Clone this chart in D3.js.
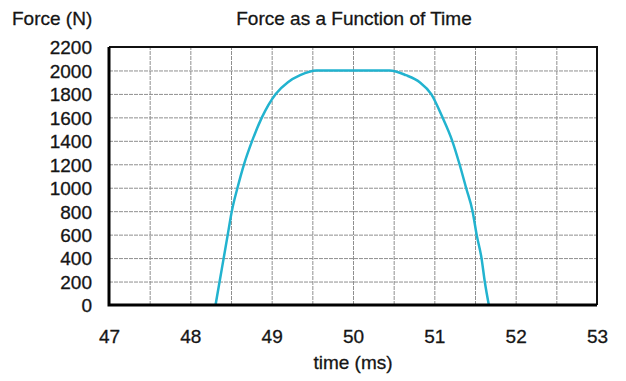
<!DOCTYPE html>
<html>
<head>
<meta charset="utf-8">
<script src="https://cdn.jsdelivr.net/npm/d3@7"></script>
<style>
  body { margin: 0; background: #fff; }
  svg { display: block; font-family: "Liberation Sans", Arial, sans-serif; }
  .grid line { stroke: #8f8f8f; stroke-width: 1; stroke-dasharray: 4,1; }
  .tick-label text, .label { font-size: 19px; fill: #151515; stroke: #151515; stroke-width: 0.3px; }
</style>
</head>
<body>
<svg id="chart" width="626" height="381"></svg>
<script>
// Data
const timeMs = [48.31, 48.36, 48.41, 48.46, 48.51, 48.58, 48.66, 48.76, 48.88, 49.05, 49.2, 49.35, 49.55,
                50.0, 50.45, 50.65, 50.82, 50.96, 51.1, 51.22, 51.31, 51.39, 51.47, 51.52, 51.58, 51.62, 51.67];
const forceN = [0, 200, 400, 600, 800, 1000, 1200, 1400, 1600, 1800, 1900, 1960, 2000,
                2000, 2000, 1960, 1900, 1800, 1600, 1400, 1200, 1000, 800, 600, 400, 200, 0];
const xTicks = [47, 48, 49, 50, 51, 52, 53];
const xGrid = [47.5, 48, 48.5, 49, 49.5, 50, 50.5, 51, 51.5, 52, 52.5];
const yTicks = [0, 200, 400, 600, 800, 1000, 1200, 1400, 1600, 1800, 2000, 2200];

const CONFIG = {
    left: 109, right: 597, top: 47, bottom: 305,
    lineColor: '#22b3cf'
};

const svg = d3.select('#chart');

const x = d3.scaleLinear().domain([47, 53]).range([CONFIG.left, CONFIG.right]);
const y = d3.scaleLinear().domain([0, 2200]).range([CONFIG.bottom, CONFIG.top]);

// Gridlines
svg.append('g')
    .attr('class', 'grid')
    .attr('transform', `translate(0,${CONFIG.bottom})`)
    .call(d3.axisBottom(x).tickValues(xGrid).tickSize(-(CONFIG.bottom - CONFIG.top)).tickFormat(''))
    .call(g => g.select('.domain').remove());

svg.append('g')
    .attr('class', 'grid')
    .attr('transform', `translate(${CONFIG.left},0)`)
    .call(d3.axisLeft(y).tickValues(yTicks.slice(1, -1)).tickSize(-(CONFIG.right - CONFIG.left)).tickFormat(''))
    .call(g => g.select('.domain').remove());

// Tick labels
svg.append('g')
    .attr('class', 'tick-label')
    .attr('transform', `translate(${CONFIG.left - 17},0)`)
    .call(d3.axisLeft(y).tickValues(yTicks).tickSize(0).tickPadding(0).tickFormat(d3.format('d')))
    .call(g => g.select('.domain').remove())
    .selectAll('text').attr('dy', '0.36em');

svg.append('g')
    .attr('class', 'tick-label')
    .attr('transform', `translate(0,${CONFIG.bottom + 24})`)
    .call(d3.axisBottom(x).tickValues(xTicks).tickSize(0).tickPadding(0).tickFormat(d3.format('d')))
    .call(g => g.select('.domain').remove());

// Curve
const pts = timeMs.map((t, i) => [t, forceN[i]]);
svg.append('path')
    .datum(pts)
    .attr('fill', 'none')
    .attr('stroke', CONFIG.lineColor)
    .attr('stroke-width', 2.5)
    .attr('d', d3.line().x(d => x(d[0])).y(d => y(d[1])).curve(d3.curveMonotoneX));

// Frame
svg.append('path')
    .attr('d', `M${CONFIG.left},${CONFIG.top}H${CONFIG.right}V${CONFIG.bottom}`)
    .attr('fill', 'none').attr('stroke', '#111').attr('stroke-width', 2);
svg.append('path')
    .attr('d', `M${CONFIG.left},${CONFIG.top}V${CONFIG.bottom}H${CONFIG.right}`)
    .attr('fill', 'none').attr('stroke', '#000').attr('stroke-width', 3);

// Titles
svg.append('text')
    .attr('class', 'label')
    .attr('x', 12).attr('y', 25)
    .text('Force (N)');

svg.append('text')
    .attr('class', 'label')
    .attr('x', 354).attr('y', 25)
    .attr('text-anchor', 'middle')
    .text('Force as a Function of Time');

svg.append('text')
    .attr('class', 'label')
    .attr('x', 353).attr('y', 369)
    .attr('text-anchor', 'middle')
    .text('time (ms)');
</script>
</body>
</html>
